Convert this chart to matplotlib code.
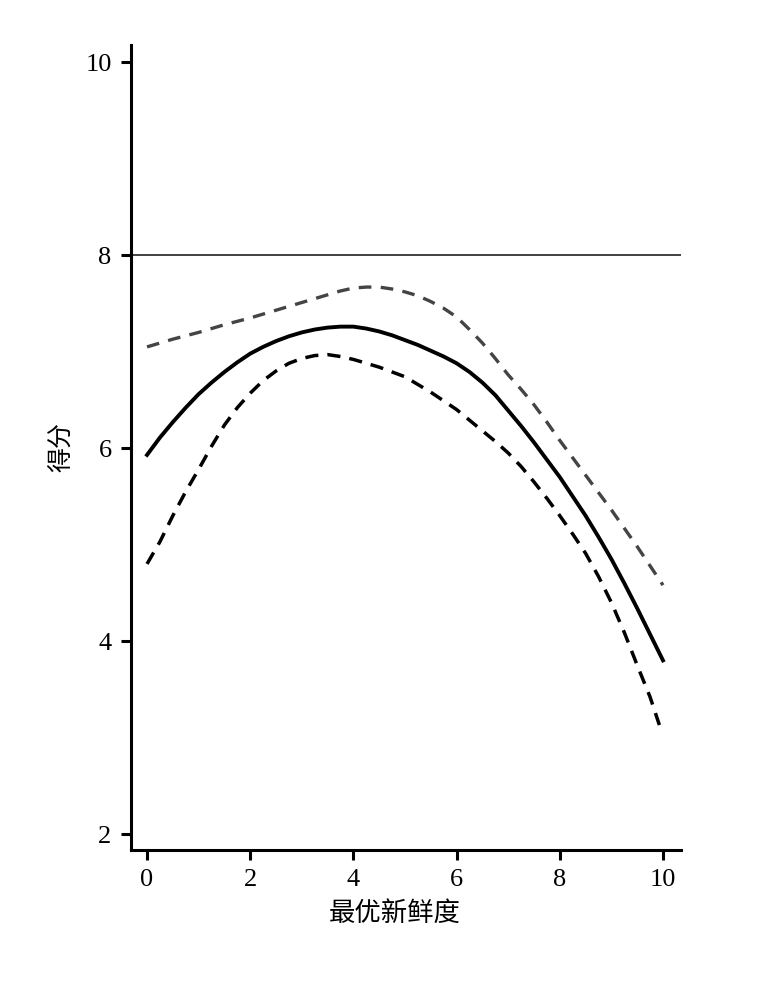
import matplotlib
matplotlib.use("Agg")
import matplotlib.pyplot as plt

# Data
x_mid = [0, 0.25, 0.5, 0.75, 1.0, 1.25, 1.5, 1.75, 2.0, 2.25, 2.5, 2.75, 3.0,
         3.25, 3.5, 3.75, 4.0, 4.25, 4.5, 4.75, 5.0, 5.25, 5.5, 5.75, 6.0,
         6.25, 6.5, 6.75, 7.0, 7.25, 7.5, 7.75, 8.0, 8.25, 8.5, 8.75, 9.0,
         9.25, 9.5, 9.75, 10.0]
y_mid = [5.93, 6.11, 6.27, 6.42, 6.56, 6.68, 6.79, 6.89, 6.98, 7.05, 7.11,
         7.16, 7.20, 7.23, 7.25, 7.26, 7.26, 7.24, 7.21, 7.17, 7.12, 7.07,
         7.01, 6.95, 6.88, 6.79, 6.68, 6.55, 6.39, 6.23, 6.06, 5.88, 5.70,
         5.50, 5.30, 5.08, 4.85, 4.60, 4.34, 4.07, 3.80]

x_up = [0, 0.5, 1.0, 1.5, 2.0, 2.5, 3.0, 3.5, 3.75, 4.0, 4.25, 4.5, 4.75,
        5.0, 5.25, 5.5, 5.75, 6.0, 6.25, 6.5, 6.75, 7.0, 7.25, 7.5, 7.75,
        8.0, 8.25, 8.5, 8.75, 9.0, 9.25, 9.5, 9.75, 10.0]
y_up = [7.05, 7.13, 7.20, 7.28, 7.35, 7.43, 7.51, 7.59, 7.63, 7.66, 7.67,
        7.67, 7.65, 7.62, 7.58, 7.52, 7.45, 7.36, 7.23, 7.09, 6.93, 6.76,
        6.61, 6.45, 6.27, 6.08, 5.90, 5.72, 5.54, 5.36, 5.17, 4.98, 4.78,
        4.58]

x_low = [0, 0.25, 0.5, 0.75, 1.0, 1.25, 1.5, 1.75, 2.0, 2.25, 2.5, 2.75,
         3.0, 3.25, 3.5, 3.75, 4.0, 4.25, 4.5, 4.75, 5.0, 5.25, 5.5, 5.75,
         6.0, 6.25, 6.5, 6.75, 7.0, 7.25, 7.5, 7.75, 8.0, 8.25, 8.5, 8.75,
         9.0, 9.25, 9.5, 9.75, 9.93]
y_low = [4.80, 5.03, 5.30, 5.55, 5.78, 6.02, 6.24, 6.42, 6.57, 6.70, 6.80,
         6.88, 6.93, 6.96, 6.97, 6.95, 6.92, 6.88, 6.84, 6.79, 6.74, 6.66,
         6.58, 6.49, 6.40, 6.29, 6.18, 6.07, 5.95, 5.81, 5.65, 5.48, 5.30,
         5.11, 4.91, 4.67, 4.40, 4.09, 3.75, 3.42, 3.13]

ref_level = 8
x_ticks = [0, 2, 4, 6, 8, 10]
y_ticks = [2, 4, 6, 8, 10]
x_label = "最优新鲜度"
y_label = "得分"

fig = plt.figure(figsize=(7.74, 9.86), dpi=100)
ax = fig.add_axes([0.1693, 0.1379, 0.7106, 0.8165])

ax.axhline(ref_level, color="#333333", lw=1.3, zorder=1)
ax.plot(x_up, y_up, color="#444444", lw=2.4, dashes=(3.8, 2.8),
        dash_capstyle="butt")
ax.plot(x_mid, y_mid, color="black", lw=2.8, solid_joinstyle="round")
ax.plot(x_low, y_low, color="black", lw=2.5, dashes=(3.8, 2.6),
        dash_capstyle="butt")

ax.set_xlim(-0.31, 10.35)
ax.set_ylim(1.834, 10.18)
ax.set_xticks(x_ticks)
ax.set_yticks(y_ticks)

for s in ["top", "right"]:
    ax.spines[s].set_visible(False)
for s in ["left", "bottom"]:
    ax.spines[s].set_linewidth(2.2)

ax.tick_params(axis="both", direction="out", length=7, width=2.2,
               labelsize=19, pad=7)
for lab in ax.get_xticklabels() + ax.get_yticklabels():
    lab.set_fontfamily(["Liberation Serif", "DejaVu Serif"])

ax.set_xlabel(x_label, family=["Noto Sans CJK SC", "DejaVu Sans"],
              fontsize=19, fontweight="medium", labelpad=6)
ax.xaxis.label.set_x(0.48)
ax.set_ylabel(y_label, family=["Noto Sans CJK SC", "DejaVu Sans"],
              fontsize=18, fontweight="medium", labelpad=7)

fig.savefig("out.png", dpi=100, facecolor="white")
